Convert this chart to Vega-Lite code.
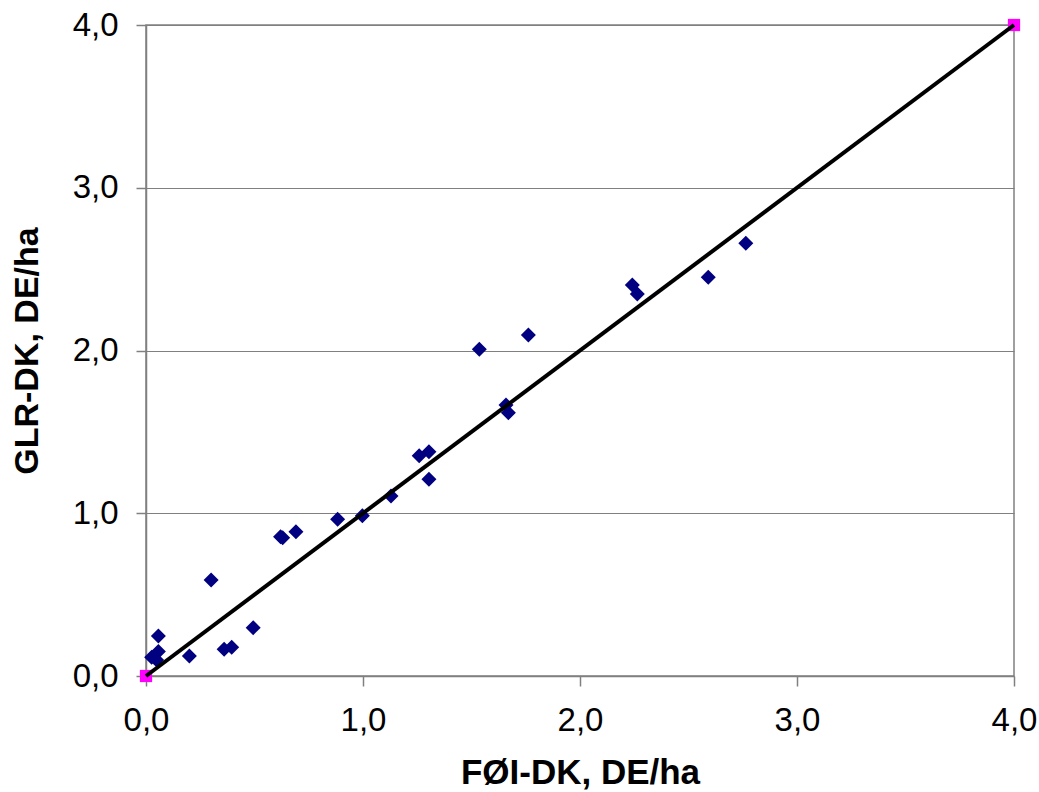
{
  "$schema": "https://vega.github.io/schema/vega-lite/v6.json",
  "autosize": "none",
  "width": 868,
  "height": 651,
  "padding": {"left": 146, "top": 25, "right": 25, "bottom": 116},
  "background": "white",
  "config": {
    "view": {"stroke": "#808080", "strokeWidth": 1.5},
    "axis": {
      "labelFont": "Liberation Sans",
      "titleFont": "Liberation Sans",
      "labelColor": "black",
      "titleColor": "black",
      "domainColor": "#808080",
      "domainWidth": 1.5,
      "tickColor": "#808080",
      "tickWidth": 1.5,
      "tickSize": 10,
      "gridColor": "#808080",
      "gridWidth": 1.2,
      "labelFlush": false
    }
  },
  "data": {
    "values": [
      {"x": 0.300, "y": 0.590, "s": "obs"},
      {"x": 0.057, "y": 0.246, "s": "obs"},
      {"x": 0.057, "y": 0.150, "s": "obs"},
      {"x": 0.026, "y": 0.115, "s": "obs"},
      {"x": 0.049, "y": 0.098, "s": "obs"},
      {"x": 0.200, "y": 0.123, "s": "obs"},
      {"x": 0.360, "y": 0.164, "s": "obs"},
      {"x": 0.395, "y": 0.176, "s": "obs"},
      {"x": 0.494, "y": 0.297, "s": "obs"},
      {"x": 0.620, "y": 0.856, "s": "obs"},
      {"x": 0.630, "y": 0.850, "s": "obs"},
      {"x": 0.691, "y": 0.887, "s": "obs"},
      {"x": 0.883, "y": 0.963, "s": "obs"},
      {"x": 0.997, "y": 0.985, "s": "obs"},
      {"x": 1.129, "y": 1.106, "s": "obs"},
      {"x": 1.259, "y": 1.354, "s": "obs"},
      {"x": 1.304, "y": 1.378, "s": "obs"},
      {"x": 1.304, "y": 1.209, "s": "obs"},
      {"x": 1.536, "y": 2.007, "s": "obs"},
      {"x": 1.762, "y": 2.095, "s": "obs"},
      {"x": 1.659, "y": 1.665, "s": "obs"},
      {"x": 1.670, "y": 1.618, "s": "obs"},
      {"x": 2.241, "y": 2.402, "s": "obs"},
      {"x": 2.264, "y": 2.347, "s": "obs"},
      {"x": 2.591, "y": 2.450, "s": "obs"},
      {"x": 2.764, "y": 2.659, "s": "obs"},
      {"x": 0, "y": 0, "s": "ref"},
      {"x": 4, "y": 4, "s": "ref"}
    ]
  },
  "encoding": {
    "x": {
      "field": "x", "type": "quantitative",
      "scale": {"domain": [0, 4], "nice": false, "zero": false},
      "axis": {
        "values": [0, 1, 2, 3, 4],
        "grid": false,
        "labelExpr": "replace(format(datum.value, '.1f'), '.', ',')",
        "labelFontSize": 33,
        "labelPadding": 18,
        "title": "FØI-DK, DE/ha",
        "titleFontSize": 35,
        "titleFontWeight": "bold",
        "titlePadding": 18
      }
    },
    "y": {
      "field": "y", "type": "quantitative",
      "scale": {"domain": [0, 4], "nice": false, "zero": false},
      "axis": {
        "values": [0, 1, 2, 3, 4],
        "grid": true,
        "labelExpr": "replace(format(datum.value, '.1f'), '.', ',')",
        "labelFontSize": 33,
        "labelPadding": 18,
        "title": "GLR-DK, DE/ha",
        "titleFontSize": 34,
        "titleFontWeight": "bold",
        "titlePadding": 28
      }
    }
  },
  "layer": [
    {
      "transform": [{"filter": "datum.s === 'ref'"}],
      "mark": {"type": "point", "shape": "square", "filled": true, "color": "#FF00FF", "size": 150, "opacity": 1}
    },
    {
      "transform": [{"filter": "datum.s === 'obs'"}],
      "mark": {"type": "point", "shape": "diamond", "filled": true, "color": "#000080", "size": 225, "opacity": 1}
    },
    {
      "transform": [{"filter": "datum.s === 'ref'"}],
      "mark": {"type": "line", "color": "black", "strokeWidth": 4}
    }
  ]
}
